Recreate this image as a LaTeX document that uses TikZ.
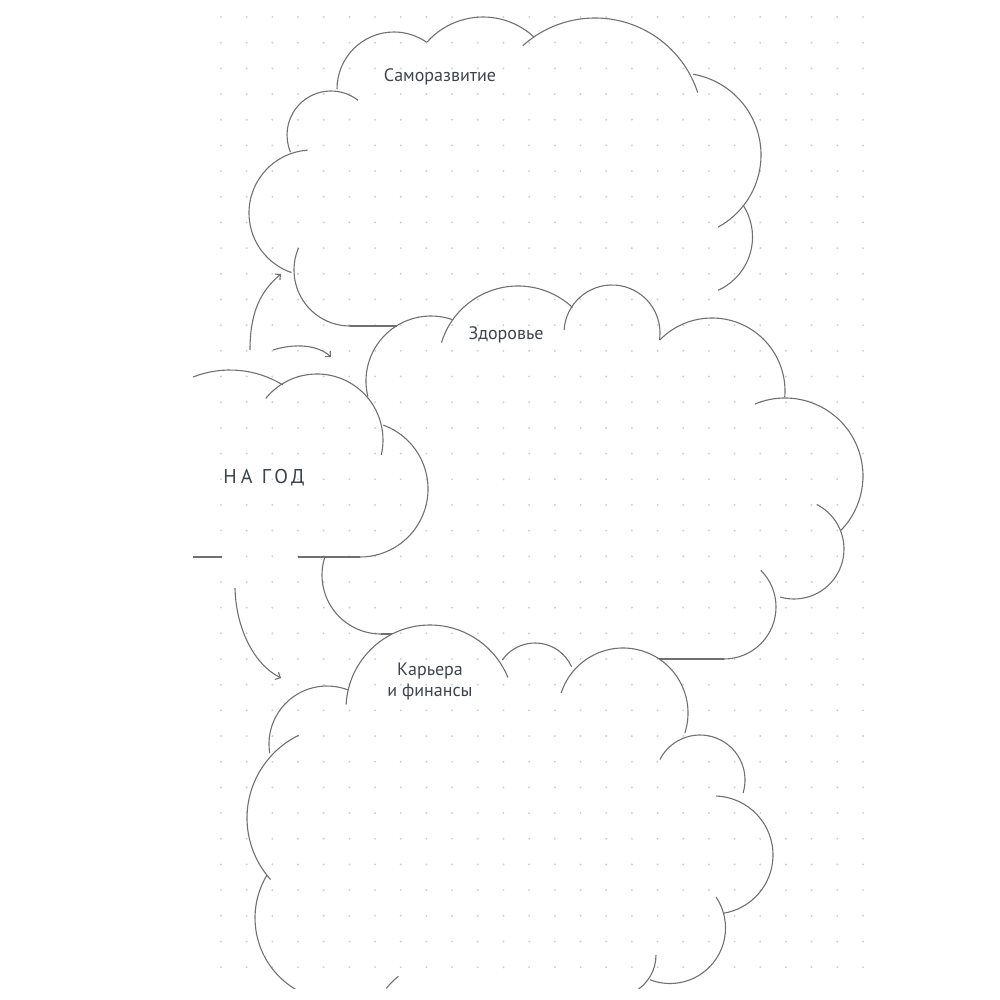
\documentclass[tikz,border=0pt]{standalone}
\usepackage{fontspec}
\setmainfont{PT Sans}
\newfontfamily\spacedfont[LetterSpace=20]{PT Sans}
\usetikzlibrary{arrows.meta}
\definecolor{linegray}{RGB}{112,112,112}
\definecolor{dotgray}{RGB}{208,208,208}
\definecolor{textgray}{RGB}{60,68,76}
\tikzset{
  cloudline/.style={draw=linegray, line width=1.1pt},
  arrowline/.style={draw=linegray, line width=1.1pt, -{Straight Barb[length=4pt,width=8pt]}},
  label/.style={text=textgray, font=\fontsize{18}{21}\selectfont, align=center, inner sep=0pt}
}
\newcommand{\carc}[5]{\draw[cloudline] (#1,#2) ++(#4:#3) arc[start angle=#4, end angle=#5, radius=#3];}
\begin{document}
\begin{tikzpicture}[x=1pt,y=-1pt]
\useasboundingbox (0,0) rectangle (1000,1000);
% dot grid
\foreach \i in {0,...,25}{
  \foreach \j in {0,...,37}{
    \fill[dotgray] ({221+25.68*\i},{17+25.68*\j}) circle[radius=1.1];
  }
}
\begin{scope}
\clip (0,0) rectangle (1000,988);
% ---- top cloud (Саморазвитие)
\carc{331}{135}{44}{-52}{-203}
\carc{312}{213}{63}{-94}{-251}
\carc{350}{270}{56}{203}{90}
\draw[cloudline] (350,326) -- (397,326);
\carc{394}{89}{57}{180}{305}
\carc{483}{92}{75}{222}{313}
\carc{595}{126}{108}{228}{342}
\carc{679}{155}{82}{280}{421.5}
\carc{694}{237}{58.5}{327}{425.6}
% ---- health cloud (Здоровье)
\carc{431}{381}{65}{166}{289}
\carc{518}{366}{80}{197}{313}
\carc{612}{333}{48}{183.6}{368.3}
\carc{712}{391}{73}{224.4}{364.7}
\carc{785}{476}{78}{247.3}{404}
\carc{794}{549}{50}{297}{466}
\carc{724}{607}{52}{-45}{90}
\draw[cloudline] (724,659) -- (659,659);
\carc{381}{575}{59}{198}{90}
\draw[cloudline] (381,634) -- (392,634);
% ---- year cloud (НА ГОД)
\carc{230}{471}{101}{248.5}{301.6}
\carc{317}{440}{66}{219}{373}
\carc{360}{489}{68}{-70}{90}
\draw[cloudline] (360,557) -- (298,557);
\draw[cloudline] (222,557) -- (193,557);
% ---- career cloud (Карьера и финансы)
\carc{430}{709}{84}{183}{338}
\carc{535}{683}{40}{215}{336}
\carc{623}{713}{65}{198}{378}
\carc{700}{780}{45}{207}{377}
\carc{714}{855}{59}{272}{441}
\carc{670}{928}{55.5}{326}{471}
\carc{614}{955}{42}{0}{60}
\carc{327}{744}{58}{291}{171}
\carc{339}{818}{92}{244}{138}
\carc{338}{918}{83}{211}{115}
\carc{450}{1040}{82}{219}{231}
\end{scope}
% ---- arrows
\coordinate (a1s) at (250,350);
\coordinate (a1e) at (281,274);
\coordinate (a2s) at (273,350);
\coordinate (a2e) at (331,357);
\coordinate (a3s) at (235,588);
\coordinate (a3e) at (281,678);
\draw[arrowline] (a1s) .. controls (250,310) and (262,290) .. (a1e);
\draw[arrowline] (a2s) .. controls (295,343) and (318,345) .. (a2e);
\draw[arrowline] (a3s) .. controls (236,630) and (255,665) .. (a3e);
% ---- labels
\node[label] (self) at (440,77) {Саморазвитие};
\node[label] (health) at (506,335) {Здоровье};
\node[label] (career) at (430,681) {Карьера\\и финансы};
\node[text=textgray, font=\fontsize{20}{24}\selectfont\spacedfont, inner sep=0pt] (year) at (264,478) {НА ГОД};
\end{tikzpicture}
\end{document}
